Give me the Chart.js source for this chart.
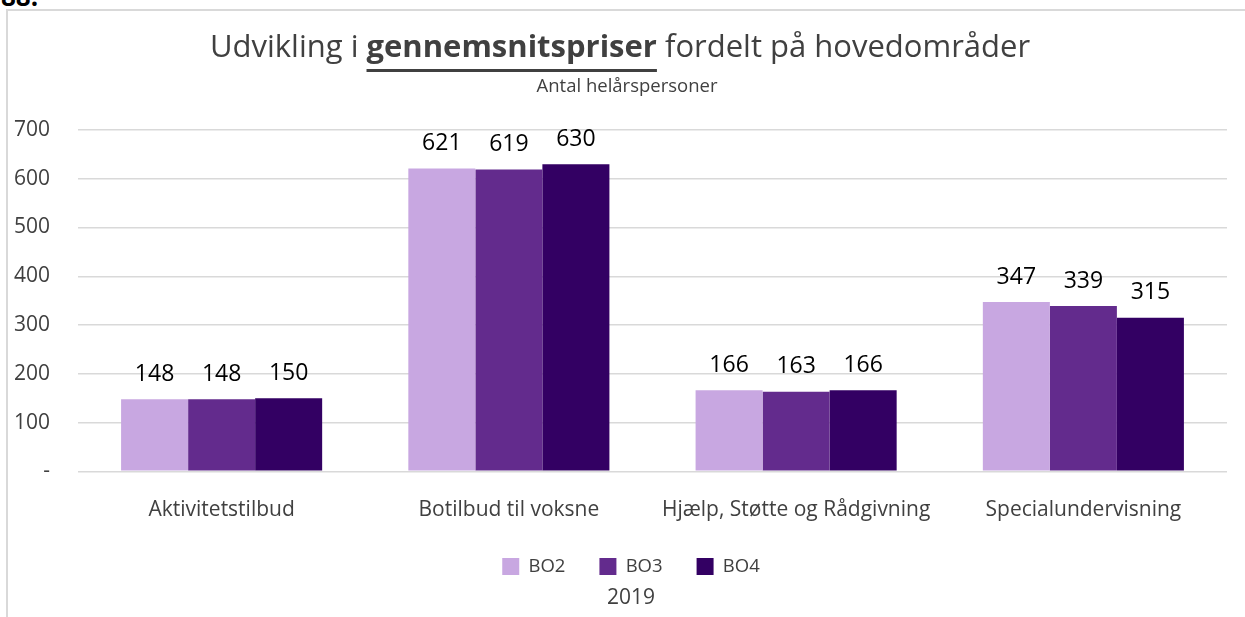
<!DOCTYPE html>
<html>
<head>
<meta charset="utf-8">
<script src="https://cdn.jsdelivr.net/npm/chart.js@4"></script>
<style>
  html, body { margin: 0; padding: 0; background: #fff; }
  body { width: 1245px; height: 617px; position: relative; overflow: hidden; font-family: "Open Sans", sans-serif; }
  .frame { position: absolute; left: 6px; top: 9px; right: -10px; bottom: -10px; border-left: 2px solid #d9d9d9; border-top: 2px solid #d9d9d9; }
  .nr { position: absolute; left: 1px; top: -22px; font: bold 26px "Open Sans", sans-serif; color: #000; }
  #chart { position: absolute; left: 0; top: 0; }
  .title { position: absolute; left: 620px; top: 24px; transform: translateX(-50%); white-space: nowrap;
           font-size: 31px; line-height: 42px; color: #404040; }
  .title b { text-decoration: underline; text-decoration-thickness: 3px; text-underline-offset: 12px; }
  .sub { position: absolute; left: 627px; top: 73px; transform: translateX(-50%); white-space: nowrap;
         font-size: 18.5px; line-height: 24px; color: #404040; }
</style>
</head>
<body>
<div class="nr">88.</div>
<div class="frame"></div>
<canvas id="chart" width="1245" height="617"></canvas>
<div class="title">Udvikling i <b>gennemsnitspriser</b> fordelt på hovedområder</div>
<div class="sub">Antal helårspersoner</div>
<script>
// Data
const categories = ['Aktivitetstilbud', 'Botilbud til voksne', 'Hjælp, Støtte og Rådgivning', 'Specialundervisning'];
const seriesNames = ['BO2', 'BO3', 'BO4'];
const bo2 = [148, 621, 166, 347];
const bo3 = [148, 619, 163, 339];
const bo4 = [150, 630, 166, 315];
const yTicks = [0, 100, 200, 300, 400, 500, 600, 700];
const yearLabel = '2019';

const colors = ['#c8a7e1', '#632b8d', '#330063'];
const textColor = '#404040';

// Tal over søjlerne
const valueLabels = {
  id: 'valueLabels',
  afterDatasetsDraw(chart) {
    const ctx = chart.ctx;
    ctx.save();
    ctx.font = '23px "Open Sans"';
    ctx.fillStyle = '#000';
    ctx.textAlign = 'center';
    ctx.textBaseline = 'middle';
    chart.data.datasets.forEach((ds, i) => {
      chart.getDatasetMeta(i).data.forEach((bar, j) => {
        ctx.fillText(ds.data[j], bar.x, bar.y - 25);
      });
    });
    ctx.restore();
  }
};

// y-aksens tal må gerne gå ud over aksens boks (ellers klippes de)
const widenYLabels = {
  id: 'widenYLabels',
  afterLayout(chart) {
    chart.scales.y.left = 0;
  }
};

const ctx = document.getElementById('chart').getContext('2d');
const myChart = new Chart(ctx, {
  type: 'bar',
  data: {
    labels: categories,
    datasets: [
      { label: seriesNames[0], data: bo2, backgroundColor: colors[0] },
      { label: seriesNames[1], data: bo3, backgroundColor: colors[1] },
      { label: seriesNames[2], data: bo4, backgroundColor: colors[2] }
    ]
  },
  options: {
    responsive: false,
    animation: false,
    datasets: { bar: { categoryPercentage: 0.7, barPercentage: 1.0 } },
    layout: { padding: { left: 35, right: 18, top: 130, bottom: 6 } },
    scales: {
      x: {
        grid: { display: false },
        border: { display: false },
        ticks: { color: textColor, font: { family: 'Open Sans', size: 21 }, padding: 18 },
        afterFit(scale) { scale.height = 52; }
      },
      y: {
        min: 0,
        max: 700,
        afterBuildTicks(scale) { scale.ticks = yTicks.map(v => ({ value: v })); },
        grid: { color: '#d9d9d9', lineWidth: 1.5, drawTicks: false },
        border: { display: false },
        ticks: {
          color: textColor,
          font: { family: 'Open Sans', size: 21 },
          padding: 28,
          callback: v => v === 0 ? '-' : v
        },
        afterFit(scale) { scale.width = 43; }
      }
    },
    plugins: {
      legend: {
        position: 'bottom',
        labels: {
          color: textColor,
          font: { family: 'Open Sans', size: 18.5 },
          boxWidth: 17,
          boxHeight: 17,
          padding: 34
        }
      },
      title: {
        display: true,
        position: 'bottom',
        text: yearLabel,
        color: textColor,
        font: { family: 'Open Sans', size: 21, weight: 'normal' },
        padding: 0
      },
      tooltip: { enabled: false }
    }
  },
  plugins: [valueLabels, widenYLabels]
});
</script>
</body>
</html>
